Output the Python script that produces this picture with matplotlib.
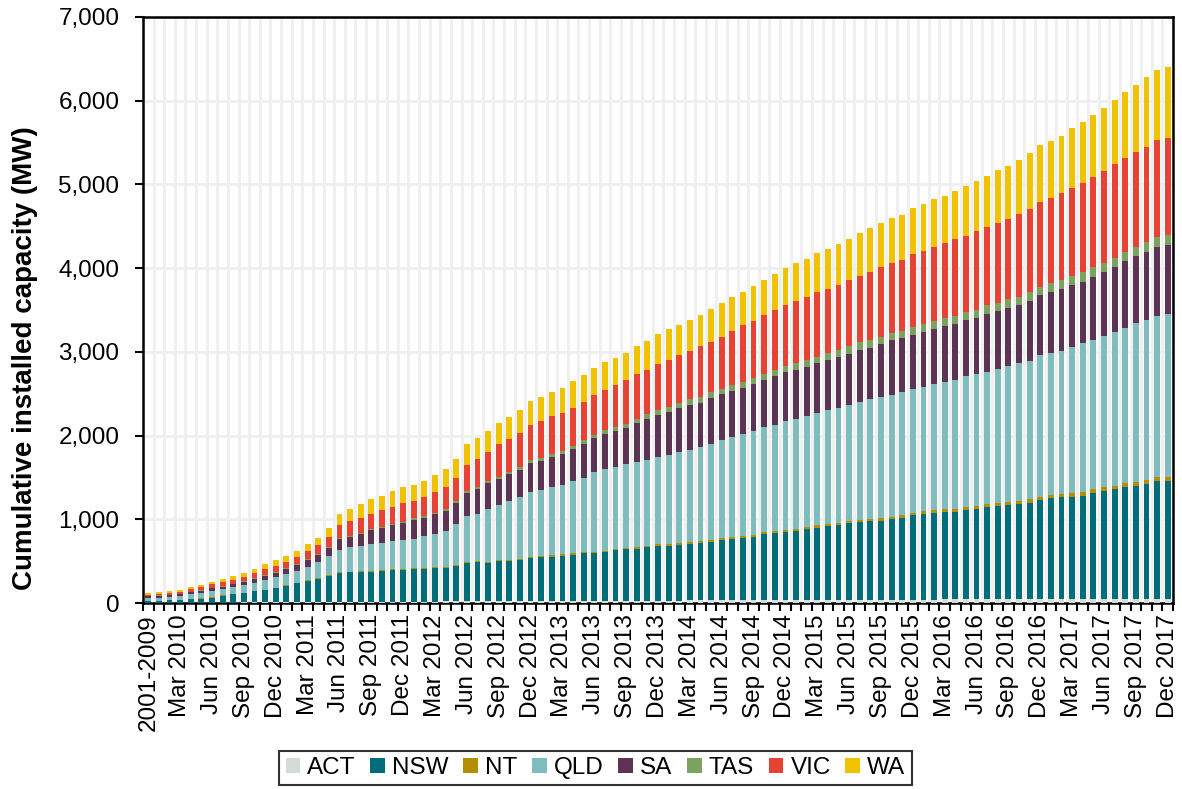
import matplotlib
matplotlib.use("Agg")
import matplotlib.pyplot as plt
import numpy as np
from matplotlib.ticker import FuncFormatter
from matplotlib.patches import Patch

plt.rcParams['font.family'] = ['Liberation Sans', 'DejaVu Sans']

month_names = ["Jan", "Feb", "Mar", "Apr", "May", "Jun",
               "Jul", "Aug", "Sep", "Oct", "Nov", "Dec"]
years = [2010, 2011, 2012, 2013, 2014, 2015, 2016, 2017]
categories = ["2001-2009"] + [f"{m} {y}" for y in years for m in month_names]

act = [3, 3, 3, 3, 4, 4, 5, 5, 5, 6, 6, 7, 7, 8, 8, 9,
       10, 10, 11, 12, 12, 13, 14, 14, 15, 16, 16, 17, 18, 18, 19, 20,
       20, 21, 21, 22, 22, 23, 23, 24, 24, 25, 25, 26, 26, 27, 27, 28,
       28, 29, 29, 30, 30, 31, 31, 32, 32, 33, 33, 34, 34, 35, 35, 36,
       36, 37, 37, 38, 38, 39, 39, 40, 40, 41, 41, 42, 42, 43, 43, 44,
       44, 45, 45, 45, 46, 46, 47, 47, 47, 48, 48, 49, 49, 50, 50, 51, 51]
nsw = [19, 25, 30, 30, 40, 48, 60, 82, 103, 115, 132, 150, 170, 200, 225, 255,
       281, 312, 350, 353, 364, 363, 370, 381, 380, 391, 390, 401, 400, 419, 457, 464,
       457, 476, 480, 490, 514, 521, 532, 543, 555, 569, 573, 582, 602, 613, 624, 635,
       658, 657, 664, 675, 686, 701, 720, 735, 750, 761, 792, 802, 817, 827, 843, 865,
       880, 895, 914, 929, 940, 946, 962, 980, 1007, 1022, 1037, 1046, 1050, 1068, 1083, 1102,
       1117, 1129, 1136, 1153, 1185, 1206, 1217, 1225, 1233, 1266, 1294, 1310, 1339, 1347, 1371, 1404, 1407]
nt = [1, 1, 1, 1, 2, 2, 3, 3, 3, 3, 4, 4, 5, 6, 6, 7,
      7, 8, 8, 8, 9, 9, 9, 10, 10, 10, 11, 11, 11, 12, 12, 12,
      13, 13, 13, 14, 14, 14, 15, 15, 15, 16, 16, 17, 17, 17, 18, 18,
      19, 19, 20, 20, 21, 21, 22, 22, 23, 23, 24, 25, 25, 26, 26, 27,
      28, 28, 29, 29, 30, 31, 31, 32, 33, 33, 34, 35, 35, 36, 37, 37,
      38, 38, 39, 39, 40, 40, 41, 41, 42, 42, 43, 43, 44, 44, 45, 45, 46]
qld = [36, 36, 40, 51, 60, 66, 72, 72, 80, 89, 101, 113, 124, 130, 145, 161,
       186, 226, 266, 298, 298, 314, 318, 333, 345, 349, 381, 397, 436, 492, 552, 572,
       630, 657, 709, 737, 773, 797, 812, 824, 860, 884, 956, 973, 980, 1000, 1012, 1028,
       1036, 1064, 1088, 1104, 1132, 1147, 1171, 1195, 1211, 1243, 1255, 1270, 1299, 1315, 1331, 1347,
       1363, 1375, 1383, 1410, 1430, 1446, 1458, 1470, 1482, 1486, 1509, 1514, 1538, 1562, 1574, 1582,
       1597, 1614, 1648, 1657, 1686, 1691, 1708, 1746, 1779, 1788, 1801, 1839, 1852, 1902, 1919, 1932, 1949]
sa = [20, 24, 24, 24, 24, 29, 34, 35, 36, 40, 44, 52, 52, 60, 69, 85,
      92, 99, 125, 121, 143, 170, 182, 194, 205, 227, 218, 232, 239, 254, 276, 296,
      308, 315, 317, 327, 353, 347, 366, 376, 381, 407, 397, 418, 425, 434, 468, 490,
      508, 518, 523, 541, 523, 550, 548, 550, 556, 559, 561, 576, 579, 582, 588, 587,
      594, 605, 616, 620, 614, 629, 648, 639, 642, 657, 651, 670, 669, 668, 667, 689,
      692, 703, 686, 718, 717, 733, 740, 744, 739, 754, 766, 770, 798, 797, 808, 819, 827]
tas = [2, 2, 2, 2, 3, 3, 4, 5, 5, 6, 7, 8, 10, 10, 10, 10,
       12, 12, 14, 14, 16, 16, 16, 17, 18, 19, 20, 22, 23, 24, 26, 26,
       26, 28, 30, 31, 33, 35, 37, 39, 41, 43, 45, 48, 50, 52, 54, 56,
       58, 60, 62, 64, 66, 68, 70, 72, 73, 74, 76, 78, 79, 80, 81, 82,
       83, 84, 85, 86, 87, 88, 89, 90, 91, 92, 94, 95, 96, 97, 98, 100,
       101, 102, 103, 104, 105, 106, 107, 108, 109, 110, 111, 112, 113, 114, 116, 117, 118]
vic = [12, 12, 16, 22, 32, 38, 44, 46, 48, 56, 69, 73, 76, 81, 89, 97,
       107, 127, 163, 179, 178, 183, 203, 202, 222, 211, 234, 246, 255, 278, 310, 333,
       355, 390, 390, 407, 418, 434, 446, 450, 455, 458, 474, 482, 506, 518, 530, 530,
       542, 561, 582, 574, 606, 605, 621, 649, 670, 678, 701, 713, 721, 737, 753, 769,
       769, 777, 793, 800, 817, 837, 829, 849, 876, 868, 889, 901, 917, 912, 944, 936,
       945, 958, 991, 991, 1017, 1017, 1034, 1042, 1063, 1081, 1093, 1118, 1118, 1131, 1144, 1157, 1161]
wa = [24, 28, 28, 28, 28, 28, 28, 42, 42, 48, 48, 60, 64, 69, 73, 85,
      83, 103, 131, 139, 163, 175, 170, 187, 187, 186, 187, 202, 218, 218, 246, 250,
      243, 255, 267, 275, 291, 287, 287, 303, 318, 319, 319, 330, 326, 331, 331, 350,
      362, 363, 355, 374, 378, 391, 403, 402, 402, 414, 418, 434, 450, 458, 458, 462,
      478, 486, 490, 506, 518, 518, 538, 533, 550, 566, 566, 561, 577, 594, 590, 606,
      635, 635, 648, 666, 678, 678, 690, 720, 733, 745, 759, 763, 797, 805, 826, 839, 847]

series_names = ["ACT", "NSW", "NT", "QLD", "SA", "TAS", "VIC", "WA"]
series_values = [act, nsw, nt, qld, sa, tas, vic, wa]
series_colors = ["#d3ddd5", "#006e7a", "#b38f00", "#7fbcbd",
                 "#5c3353", "#7aa35f", "#e84234", "#f0c200"]

W, H = 1182, 789
fig = plt.figure(figsize=(W / 100, H / 100), dpi=100)
ax = fig.add_axes([143 / W, 1 - 603 / H, (1173 - 143) / W, (603 - 17) / H])

x = np.arange(len(categories))
bottom = np.zeros(len(categories))
for name, vals, col in zip(series_names, series_values, series_colors):
    v = np.array(vals, dtype=float)
    ax.bar(x, v, width=0.55, bottom=bottom, color=col, label=name,
           linewidth=0, zorder=3)
    bottom += v

ax.set_xlim(-0.5, len(categories) - 0.5)
ax.set_ylim(0, 7000)
ax.set_yticks(np.arange(0, 7001, 1000))
ax.yaxis.set_major_formatter(FuncFormatter(lambda v, p: f"{int(v):,}"))

lab_pos = x[::3]
ax.set_xticks(lab_pos)
ax.set_xticklabels([categories[i] for i in lab_pos], rotation=90)
ax.set_xticks(np.arange(-0.5, len(categories), 1), minor=True)
ax.tick_params(axis='x', which='major', length=0, pad=8, labelsize=17.5)
ax.tick_params(axis='x', which='minor', length=6, width=1.5, direction='out')
ax.tick_params(axis='y', which='major', length=6, width=1.5, direction='out',
               labelsize=17.5, pad=11)

ax.grid(which='minor', axis='x', color='#efefef', linewidth=2, zorder=0)
ax.grid(which='major', axis='y', color='#efefef', linewidth=2, zorder=0)
ax.set_axisbelow(True)

for sp in ax.spines.values():
    sp.set_linewidth(1.8)
    sp.set_color('black')

fig.text(25 / W, 1 - 358 / H, "Cumulative installed capacity (MW)",
         rotation=90, fontsize=20, fontweight='bold',
         ha='center', va='center')

handles = [Patch(facecolor=c, edgecolor='none') for c in series_colors]
leg = fig.legend(handles, series_names, loc='center',
                 bbox_to_anchor=(595.5 / W, 1 - 768 / H), ncol=8, frameon=True,
                 fancybox=False, edgecolor='black', fontsize=17.5,
                 handlelength=0.6, handleheight=0.6, handletextpad=0.3,
                 columnspacing=0.6, borderpad=0.25)
leg.get_frame().set_linewidth(1.5)

fig.savefig("out.png", dpi=100)
